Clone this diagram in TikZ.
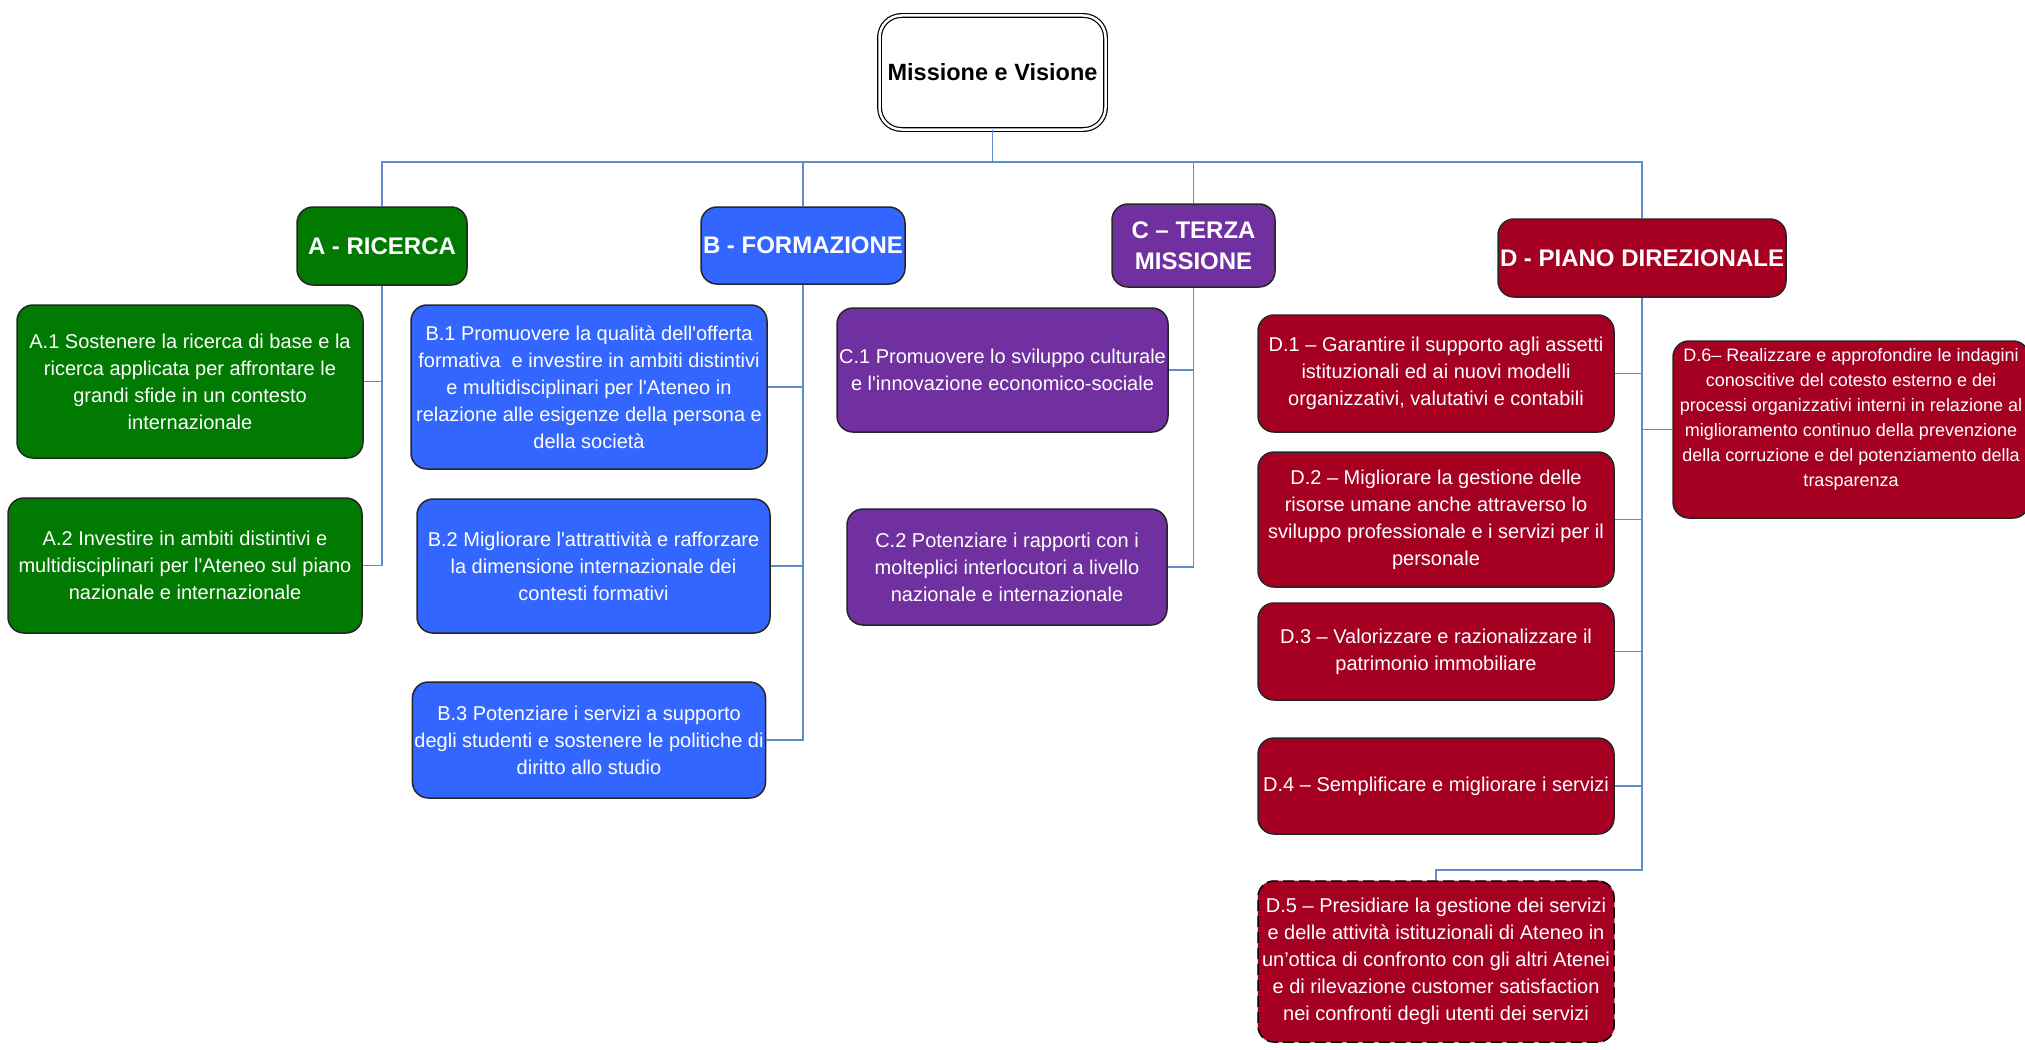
\documentclass[tikz,border=0pt]{standalone}
\usepackage{fontspec}
\setmainfont{Liberation Sans}

\definecolor{ricerca}{RGB}{0,122,0}
\definecolor{formazione}{RGB}{51,102,255}
\definecolor{terza}{RGB}{112,48,160}
\definecolor{piano}{RGB}{165,0,33}
\definecolor{linkblue}{RGB}{95,140,205}

\tikzset{
  box/.style={shape=rectangle,rounded corners=16pt,draw=black!85,line width=1.5pt,align=center,text=white,inner sep=2pt},
  head/.style={box,inner xsep=0pt,font=\bfseries\fontsize{24}{31}\selectfont},
  item/.style={box,font=\fontsize{20}{27}\selectfont},
  boxsize/.style 2 args={minimum width=#1pt,minimum height=#2pt},
  link/.style={draw=linkblue,line width=1.8pt},
}

\begin{document}
\begin{tikzpicture}[x=1pt,y=-1pt]
\useasboundingbox (0,0) rectangle (2025,1049);

\node[draw=black,double=white,double distance=2.5pt,line width=1.2pt,rounded corners=22pt,boxsize={226}{114},align=center,inner xsep=0pt,font=\bfseries\fontsize{23.5}{26}\selectfont] (root) at (992.5,72.5) {Missione e Visione};
\coordinate (bus) at (992.5,162);

\node[head,fill=ricerca,boxsize={170}{78}] (A) at (382,246) {A - RICERCA};
\node[head,fill=formazione,boxsize={204}{77}] (B) at (803,245.5) {B - FORMAZIONE};
\node[head,fill=terza,boxsize={163}{83}] (C) at (1193.5,245.5) {C – TERZA\\MISSIONE};
\node[head,fill=piano,boxsize={288}{78}] (D) at (1642,258) {D - PIANO DIREZIONALE};

\node[item,fill=ricerca,boxsize={346}{153}] (A1) at (190,381.5) {A.1 Sostenere la ricerca di base e la\\ricerca applicata per affrontare le\\grandi sfide in un contesto\\internazionale};
\node[item,fill=ricerca,boxsize={354}{135}] (A2) at (185,565.5) {A.2 Investire in ambiti distintivi e\\multidisciplinari per l\textquotesingle Ateneo sul piano\\nazionale e internazionale};

\node[item,fill=formazione,boxsize={356}{164}] (B1) at (589,387) {B.1 Promuovere la qualità dell\textquotesingle offerta\\formativa \ e investire in ambiti distintivi\\e multidisciplinari per l\textquotesingle Ateneo in\\relazione alle esigenze della persona e\\della società};
\node[item,fill=formazione,boxsize={353}{134}] (B2) at (593.5,566) {B.2 Migliorare l\textquotesingle attrattività e rafforzare\\la dimensione internazionale dei\\contesti formativi};
\node[item,fill=formazione,boxsize={352}{116}] (B3) at (589,740) {B.3 Potenziare i servizi a supporto\\degli studenti e sostenere le politiche di\\diritto allo studio};

\node[item,fill=terza,boxsize={331}{124}] (C1) at (1002.5,370) {C.1 Promuovere lo sviluppo culturale\\e l\textquotesingle innovazione economico-sociale};
\node[item,fill=terza,boxsize={320}{116}] (C2) at (1007,567) {C.2 Potenziare i rapporti con i\\molteplici interlocutori a livello\\nazionale e internazionale};

\node[item,fill=piano,boxsize={356}{117}] (D1) at (1436,373.5) {D.1 – Garantire il supporto agli assetti\\istituzionali ed ai nuovi modelli\\organizzativi, valutativi e contabili};
\node[item,fill=piano,boxsize={356}{135}] (D2) at (1436,519.5) {D.2 – Migliorare la gestione delle\\risorse umane anche attraverso lo\\sviluppo professionale e i servizi per il\\personale};
\node[item,fill=piano,boxsize={356}{97}] (D3) at (1436,651.5) {D.3 – Valorizzare e razionalizzare il\\patrimonio immobiliare};
\node[item,fill=piano,boxsize={356}{96}] (D4) at (1436,786) {D.4 – Semplificare e migliorare i servizi};
\node[item,fill=piano,boxsize={356}{161},draw=black,dash pattern=on 11pt off 5pt,preaction={draw=piano!35!white,solid,line width=1.5pt}] (D5) at (1436,961.5) {D.5 – Presidiare la gestione dei servizi\\e delle attività istituzionali di Ateneo in\\un’ottica di confronto con gli altri Atenei\\e di rilevazione customer satisfaction\\nei confronti degli utenti dei servizi};
\node[item,fill=piano,boxsize={356}{177},font=\fontsize{18}{25}\selectfont] (D6) at (1851,429.5) {D.6– Realizzare e approfondire le indagini\\conoscitive del cotesto esterno e dei\\processi organizzativi interni in relazione al\\miglioramento continuo della prevenzione\\della corruzione e del potenziamento della\\trasparenza\\\mbox{}};

\draw[link] (root.south) -- (bus);
\foreach \h in {A,B,C,D}
  \draw[link] (bus) -| (\h.north);
\foreach \c in {A1,A2}
  \draw[link] (A.south) |- (\c.east);
\foreach \c in {B1,B2,B3}
  \draw[link] (B.south) |- (\c.east);
\foreach \c in {C1,C2}
  \draw[link] (C.south) |- (\c.east);
\foreach \c in {D1,D2,D3,D4}
  \draw[link] (D.south) |- (\c.east);
\draw[link] (D.south) |- (D6.west);
\draw[link] (D.south) |- ([yshift=10pt]D5.north) -- (D5.north);
\end{tikzpicture}
\end{document}
